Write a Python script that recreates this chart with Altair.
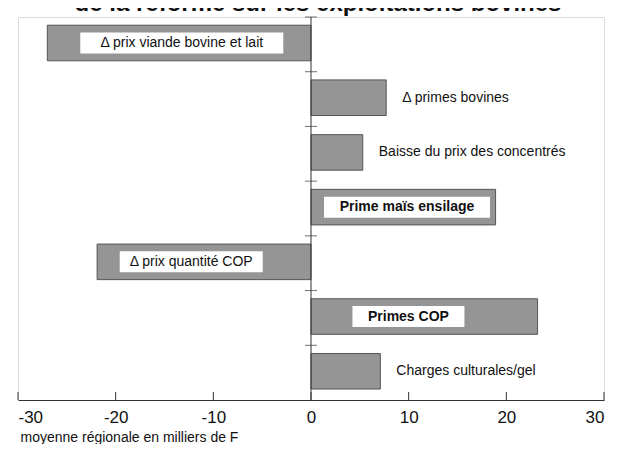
import altair as alt
import pandas as pd

# ---- data ----
categories = [
    "\u0394 prix viande bovine et lait",
    "\u0394  primes bovines",
    "Baisse du prix des concentrés",
    "Prime maïs ensilage",
    "\u0394  prix quantité COP",
    "Primes COP",
    "Charges culturales/gel",
]
values = [-27.0, 7.7, 5.3, 18.9, -21.9, 23.2, 7.1]
label_inside = [True, False, False, True, True, True, False]
label_bold = [False, False, False, True, False, True, False]
# styling of the in-bar labels: white box width (px) and centre as a share of the bar
box_px = [203, 0, 0, 166, 143, 112, 0]
center_share = [0.49, 1.0, 1.0, 0.52, 0.56, 0.43, 1.0]
x_ticks = [-30, -20, -10, 0, 10, 20, 30]
title_text = "de la réforme sur les exploitations bovines"
x_title = "moyenne régionale en milliers de F"

W, H = 586, 383
XMIN, XMAX = -30, 30
per_px = (XMAX - XMIN) / W
band_px = H / len(categories)

rows = []
for i, (c, v, ins, b, bp, cs) in enumerate(
        zip(categories, values, label_inside, label_bold, box_px, center_share)):
    mid = i + 0.475
    cx = v * cs
    rows.append(dict(
        cat=c, v=v, zero=0.0, y0=i + 0.15, y1=i + 0.80, ymid=mid,
        inside=ins, bold=b,
        lx=cx if ins else v,
        bx0=cx - bp / 2 * per_px, bx1=cx + bp / 2 * per_px,
        by0=mid - 10.5 / band_px, by1=mid + 10.5 / band_px,
    ))
df = pd.DataFrame(rows)
inside_df = df[df.inside]
in_bold_df = inside_df[inside_df.bold]
in_norm_df = inside_df[~inside_df.bold]
outside_df = df[~df.inside]

font = "Liberation Sans"
xs = alt.Scale(domain=[XMIN, XMAX], nice=False, zero=False)
ys = alt.Scale(domain=[0, len(categories)], reverse=True, nice=False, zero=False)

x_axis = alt.Axis(values=x_ticks, tickSize=0, labelFontSize=17, labelFont=font,
                  labelExpr="toString(datum.value)",
                  labelColor="#111", labelPadding=9, grid=False, domainColor="#333",
                  title=x_title, titleFont=font, titleFontSize=14, titleFontWeight="normal",
                  titleColor="#111", titleAnchor="start", titleAlign="left",
                  titleX=2, titleY=41, titleBaseline="alphabetic")

bars = alt.Chart(df).mark_bar(color="#959595", stroke="#555", strokeWidth=1).encode(
    x=alt.X("v:Q", scale=xs, axis=x_axis),
    x2="zero:Q",
    y=alt.Y("y0:Q", scale=ys, axis=None),
    y2="y1:Q",
)

boxes = alt.Chart(inside_df).mark_rect(color="white").encode(
    x=alt.X("bx0:Q", scale=xs), x2="bx1:Q",
    y=alt.Y("by0:Q", scale=ys), y2="by1:Q",
)

in_text_norm = alt.Chart(in_norm_df).mark_text(font=font, fontSize=14, color="#111",
                                               align="center", baseline="middle").encode(
    x=alt.X("lx:Q", scale=xs), y=alt.Y("ymid:Q", scale=ys), text="cat:N",
)
in_text_bold = alt.Chart(in_bold_df).mark_text(font=font, fontSize=14, color="#111",
                                               fontWeight="bold",
                                               align="center", baseline="middle").encode(
    x=alt.X("lx:Q", scale=xs), y=alt.Y("ymid:Q", scale=ys), text="cat:N",
)

out_text = alt.Chart(outside_df).mark_text(font=font, fontSize=14, color="#111",
                                           align="left", baseline="middle", dx=16).encode(
    x=alt.X("lx:Q", scale=xs), y=alt.Y("ymid:Q", scale=ys), text="cat:N",
)

vline_df = pd.DataFrame({"x": [0.0], "ya": [0.0], "yb": [float(len(categories))]})
vline = alt.Chart(vline_df).mark_rule(color="#333", strokeWidth=1).encode(
    x=alt.X("x:Q", scale=xs), y=alt.Y("ya:Q", scale=ys), y2="yb:Q",
)

ytick_df = pd.DataFrame({"x": [0.0] * len(categories), "y": list(range(len(categories)))})
yticks = alt.Chart(ytick_df).mark_tick(orient="horizontal", size=12, color="#333",
                                       thickness=1).encode(
    x=alt.X("x:Q", scale=xs), y=alt.Y("y:Q", scale=ys),
)

xtick_df = pd.DataFrame({"x": x_ticks, "ya": [float(len(categories))] * len(x_ticks),
                         "yb": [len(categories) - 8 / band_px] * len(x_ticks)})
xticks = alt.Chart(xtick_df).mark_rule(color="#333", strokeWidth=1).encode(
    x=alt.X("x:Q", scale=xs), y=alt.Y("ya:Q", scale=ys), y2="yb:Q",
)

chart = alt.layer(bars, boxes, in_text_norm, in_text_bold, out_text, vline, yticks, xticks).properties(
    width=W, height=H,
    title=alt.TitleParams(title_text, font=font, fontSize=24, fontWeight="bold",
                          color="#111", anchor="middle", offset=1, dx=7),
    autosize=alt.AutoSizeParams(type="none"),
    padding={"left": 10, "top": 9, "right": 8, "bottom": 44},
).configure_view(stroke=None).configure(background="white")

chart.save("out.html", embed_options={"renderer": "svg", "actions": False})
